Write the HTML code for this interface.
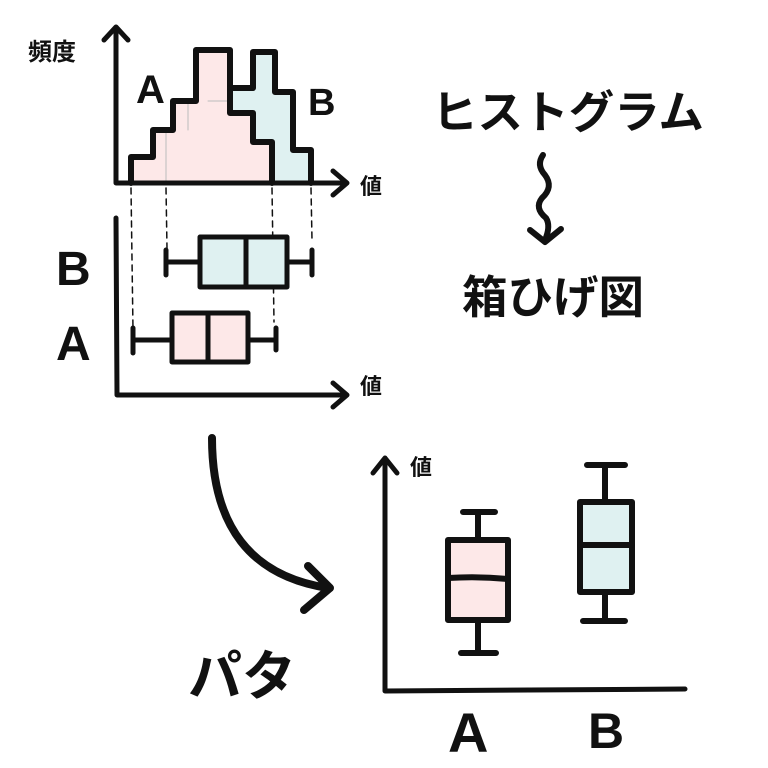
<!DOCTYPE html>
<html><head><meta charset="utf-8"><style>
html,body{margin:0;padding:0;background:#fff;}
svg{display:block;}
text{font-family:"Liberation Sans","Noto Sans CJK JP",sans-serif;font-weight:bold;fill:#111;}
</style></head><body>
<svg width="768" height="768" viewBox="0 0 768 768" xmlns="http://www.w3.org/2000/svg">
<g stroke="#111" stroke-linecap="round" stroke-linejoin="round" fill="none">
<!-- histogram fills -->
<path d="M131,183 L131,157 L153,157 L153,130 L173,130 L173,101 L196,101 L196,50 L230,50 L230,113 L253,113 L253,142 L272,142 L272,183 Z" fill="#fde8e8" stroke="none"/>
<path d="M230,88 L253,88 L253,52 L275,52 L275,92 L293,92 L293,150 L311,150 L311,183 L272,183 L272,142 L253,142 L253,113 L230,113 Z" fill="#dff1f1" stroke="none"/>
<path d="M166,183 L166,130 M188,130 L188,101 M208,101 L228,101" stroke="#bbb" stroke-width="1"/>
<path d="M131,183 L131,157 L153,157 L153,130 L173,130 L173,101 L196,101 L196,50 L230,50 L230,113 L253,113 L253,142 L272,142 L272,183" stroke-width="6"/>
<path d="M230,88 L253,88 L253,52 L275,52 L275,92 L293,92 L293,150 L311,150 L311,183" stroke-width="6"/>
<!-- axes 1 -->
<path d="M116,183 L116,27 M104,40 L116,27 L128,40 M116,183 L345,183 M333,171 L347,183 L333,195" stroke-width="5"/>
<!-- dashed -->
<path d="M131,188 L133,330 M166,188 L167,248 M272,188 L274,322 M311,188 L312,240" stroke-width="1.5" stroke-dasharray="6,5"/>
<!-- axes 2 -->
<path d="M116,218 L117,395 L345,395 M333,383 L347,395 L333,407" stroke-width="5"/>
<!-- box B -->
<path d="M166,262 L200,262 M287,262 L312,262 M166,250 L166,275 M312,250 L312,275" stroke-width="5"/>
<rect x="200" y="237" width="87" height="50" fill="#dff1f1" stroke-width="5"/>
<path d="M246,237 L246,287" stroke-width="5"/>
<!-- box A -->
<path d="M133,340 L172,340 M248,340 L276,340 M133,328 L133,353 M276,328 L276,350" stroke-width="5"/>
<rect x="172" y="313" width="76" height="49" fill="#fde8e8" stroke-width="5"/>
<path d="M208,313 L208,362" stroke-width="5"/>
<!-- squiggle -->
<path d="M543,155 Q536,165 545,175 Q554,187 542,198 Q534,208 546,218 Q551,226 545,240 M530,230 L545,242 L561,229" stroke-width="6"/>
<!-- curved arrow -->
<path d="M212,438 Q212,570 328,588 M308,566 L330,588 L304,610" stroke-width="8"/>
<!-- axes 3 -->
<path d="M385,460 L385,691 L685,689 M373,473 L385,458 L397,473" stroke-width="5"/>
<!-- box A bottom -->
<path d="M478,512 L478,540 M478,620 L478,653 M463,512 L495,512 M461,653 L496,653" stroke-width="6"/>
<rect x="448" y="540" width="60" height="80" fill="#fde8e8" stroke-width="6"/>
<path d="M448,578 Q478,576 508,579" stroke-width="6"/>
<!-- box B bottom -->
<path d="M605,465 L605,502 M605,592 L605,621 M587,465 L625,465 M583,621 L625,621" stroke-width="6"/>
<rect x="580" y="502" width="52" height="90" fill="#dff1f1" stroke-width="6"/>
<path d="M580,545 L632,545" stroke-width="6"/>
</g>
<text x="28" y="60" font-size="24">頻度</text>
<text x="136" y="103" font-size="40" font-weight="normal">A</text>
<text x="308" y="115" font-size="38" font-weight="normal">B</text>
<text x="360" y="194" font-size="22">値</text>
<text x="360" y="394" font-size="22">値</text>
<text x="56" y="285" font-size="48" font-weight="normal">B</text>
<text x="56" y="360" font-size="48" font-weight="normal">A</text>
<text x="432" y="128" font-size="45" textLength="272" lengthAdjust="spacingAndGlyphs">ヒストグラム</text>
<text x="462" y="313" font-size="45" textLength="182" lengthAdjust="spacingAndGlyphs">箱ひげ図</text>
<text x="410" y="475" font-size="22">値</text>
<text x="188" y="695" font-size="54">パタ</text>
<text x="448" y="752" font-size="56" font-weight="normal">A</text>
<text x="588" y="748" font-size="50" font-weight="normal">B</text>
</svg>
</body></html>
